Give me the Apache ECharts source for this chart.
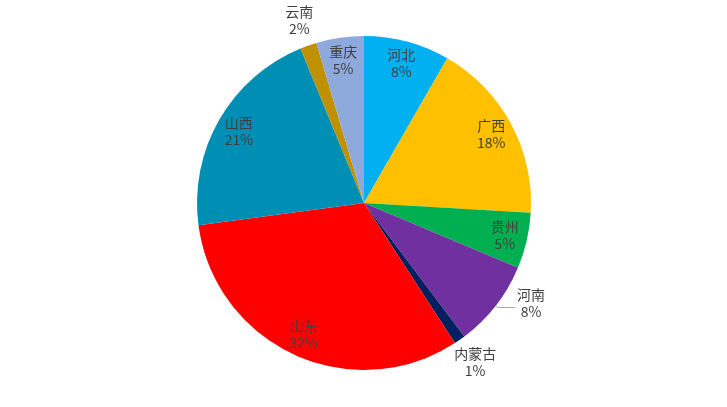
<!DOCTYPE html>
<html><head><meta charset="utf-8">
<script src="https://cdn.jsdelivr.net/npm/echarts@6/dist/echarts.min.js"></script>
<style>html,body{margin:0;padding:0;background:#fff}#c{width:727px;height:407px}</style>
</head><body><div id="c"></div>
<script>
const categories = ['河北','广西','贵州','河南','内蒙古','山东','山西','云南','重庆'];
const values = [8.3, 17.6, 5.4, 8.4, 1.1, 32.0, 20.9, 1.6, 4.6];
const colors = ['#00B0F0','#FFC000','#00B050','#7030A0','#002060','#FF0000','#008FB4','#BF9000','#8EA9DB'];
const leaderLabels = ['河南'];
const farLabels = ['内蒙古','云南'];

const font = {fontFamily:'"Noto Sans CJK SC", sans-serif', fontSize:14, color:'#404040', lineHeight:17};
const chart = echarts.init(document.getElementById('c'), null, {renderer:'canvas'});
const mainData = categories.map((c,i)=>{
  const d = {name:c, value:values[i], itemStyle:{color:colors[i]}};
  if (leaderLabels.includes(c)) {
    d.label = Object.assign({show:true, position:'outside', distanceToLabelLine:2,
      formatter:'{a|{b}}\n{a|{d}%}', rich:{a:Object.assign({align:'center'}, font)}}, font);
    d.labelLine = {show:true, length:3, length2:17, lineStyle:{color:'#A6A6A6', width:1}};
  } else {
    d.label = {show:false};
    d.labelLine = {show:false};
  }
  return d;
});
const innerData = categories.map((c,i)=>({
  name:c, value:values[i],
  label: (leaderLabels.includes(c)||farLabels.includes(c)) ? {show:false} : Object.assign({show:true, position:'inside', formatter:'{b}\n{d}%'}, font)
}));
const farData = categories.map((c,i)=>({
  name:c, value:values[i],
  label: farLabels.includes(c) ? Object.assign({show:true, position:'inside', formatter:'{b}\n{d}%'}, font) : {show:false}
}));
const overlay = (r, data) => ({type:'pie', center:[364,203], radius:r, startAngle:90, clockwise:true,
     percentPrecision:0, silent:true, avoidLabelOverlap:false,
     itemStyle:{color:'rgba(0,0,0,0)', borderWidth:0}, labelLine:{show:false},
     data:data, emphasis:{disabled:true}});
chart.setOption({
  animation:false,
  series:[
    {type:'pie', center:[364,203], radius:[0,167], startAngle:90, clockwise:true,
     percentPrecision:0, avoidLabelOverlap:false, data:mainData,
     labelLayout:{dy:-4},
     itemStyle:{borderWidth:0}, emphasis:{disabled:true}},
    overlay([116,167], innerData),
    overlay([180,202], farData)
  ]
});
</script></body></html>
